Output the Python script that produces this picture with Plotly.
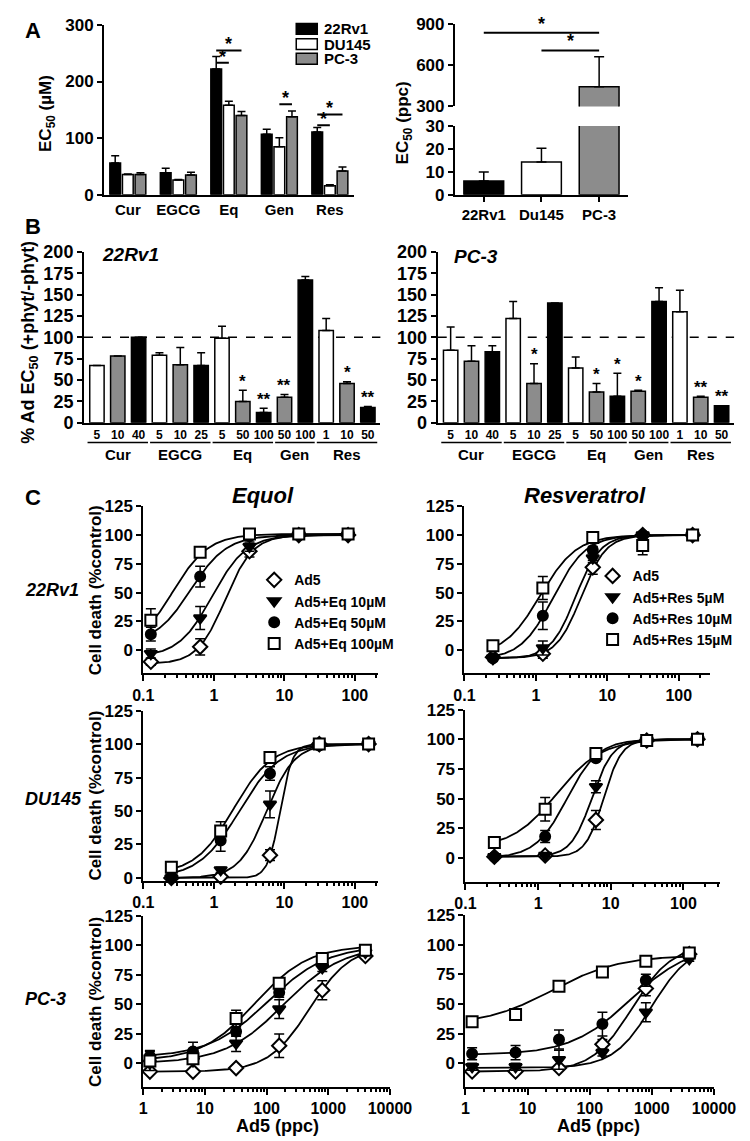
import numpy as np
import plotly.graph_objects as go

W, H = 750, 1141
FONT = "Liberation Sans"
GRAY = "#8c8c8c"

# ---------------- Panel A (left): EC50 of phytochemicals (uM)
a_compounds = ["Cur", "EGCG", "Eq", "Gen", "Res"]
a_cell_lines = ["22Rv1", "DU145", "PC-3"]
a_22rv1 = [56, 39, 222, 107, 111]
a_22rv1_err = [13, 8, 22, 9, 8]
a_du145 = [36, 26, 158, 85, 16]
a_du145_err = [1, 1, 7, 16, 2]
a_pc3 = [36, 35, 140, 138, 42]
a_pc3_err = [3, 5, 7, 10, 7]
a_sig_comp = [2, 2, 3, 4, 4]
a_sig_from = [0, 0, 1, 0, 0]
a_sig_to = [1, 2, 2, 1, 2]
a_sig_y = [233, 255, 160, 123, 142]
a_sig_lab = ["*", "*", "*", "*", "*"]

# ---------------- Panel A (right): EC50 of Ad5 (ppc)
ar_lines = ["22Rv1", "Du145", "PC-3"]
ar_ec50 = [6, 14.3, 443]
ar_err = [4, 6, 219]
ar_sig_from = [0, 1]
ar_sig_to = [2, 2]
ar_sig_y = [836, 707]
ar_sig_lab = ["*", "*"]

# ---------------- Panel B: % Ad EC50 (+phyt/-phyt)
b_doses = ["5", "10", "40", "5", "10", "25", "5", "50", "100", "50", "100", "1", "10", "50"]
b_groups = ["Cur"] * 3 + ["EGCG"] * 3 + ["Eq"] * 3 + ["Gen"] * 2 + ["Res"] * 3
b_level = ["low", "mid", "high", "low", "mid", "high", "low", "mid", "high",
           "mid", "high", "low", "mid", "high"]
b22_vals = [67, 78, 100, 79, 68, 67, 99, 25, 12, 30, 167, 108, 46, 18]
b22_err = [0, 0, 0, 3, 20, 15, 14, 13, 5, 3, 4, 14, 2, 1]
b22_sig = ["", "", "", "", "", "", "", "*", "**", "**", "", "", "*", "**"]
bpc3_vals = [85, 72, 83, 122, 46, 140, 64, 36, 31, 37, 142, 130, 30, 20]
bpc3_err = [27, 18, 7, 20, 23, 0, 13, 10, 27, 1, 16, 25, 1, 0]
bpc3_sig = ["", "", "", "", "*", "", "", "*", "*", "*", "", "", "**", "**"]
b_ref_line = 100

# ---------------- Panel C: dose-response (cell death % control)
c_eq_names = ["Ad5", "Ad5+Eq 10µM", "Ad5+Eq 50µM", "Ad5+Eq 100µM"]
c_res_names = ["Ad5", "Ad5+Res 5µM", "Ad5+Res 10µM", "Ad5+Res 15µM"]

c22eq_x = [0.128, 0.64, 3.2, 16, 80]
c22eq_y = [[-10, 3, 86, 100, 100], [-3, 28, 90, 100, 100],
           [14, 64, 99, 100, 100], [26, 85, 101, 101, 101]]
c22eq_err = [[3, 7, 5, 2, 2], [4, 10, 4, 2, 2], [6, 9, 2, 2, 2], [10, 2, 2, 2, 2]]
c22eq_fit = [(-12, 100, 1.45, 2.2), (-6, 100, 0.95, 1.8), (5, 100, 0.47, 1.7), (0, 101, 0.26, 1.7)]

c22res_x = [0.25, 1.25, 6.25, 31.25, 156.25]
c22res_y = [[-6, -3, 72, 100, 100], [-7, 2, 80, 100, 100],
            [-7, 30, 87, 100, 100], [4, 54, 98, 91, 100]]
c22res_err = [[2, 4, 6, 2, 2], [2, 6, 4, 2, 2], [2, 12, 3, 2, 2], [2, 10, 2, 8, 2]]
c22res_fit = [(-7, 100, 4.3, 2.5), (-7, 100, 3.6, 2.5), (-8, 100, 1.75, 1.9), (-5, 100, 1.15, 1.7)]

cdueq_x = [0.25, 1.25, 6.25, 31.25, 156.25]
cdueq_y = [[0, 1, 17, 100, 100], [0, 6, 55, 99, 100],
           [1, 28, 78, 99, 100], [8, 35, 90, 100, 100]]
cdueq_err = [[1, 1, 4, 2, 2], [1, 2, 10, 2, 2], [1, 8, 5, 2, 2], [1, 7, 2, 2, 2]]
cdueq_fit = [(0, 100, 8.7, 5.0), (0, 100, 5.6, 2.2), (0, 100, 2.3, 1.5), (3, 100, 1.9, 1.6)]

cdures_x = [0.25, 1.25, 6.25, 31.25, 156.25]
cdures_y = [[1, 2, 32, 99, 100], [1, 2, 60, 99, 100],
            [1, 18, 84, 99, 100], [13, 41, 88, 99, 100]]
cdures_err = [[1, 1, 8, 2, 2], [1, 1, 5, 2, 2], [1, 5, 2, 2, 2], [2, 10, 2, 2, 2]]
cdures_fit = [(1, 100, 8.0, 3.5), (1, 100, 5.5, 3.0), (0, 100, 2.5, 2.0), (8, 100, 1.8, 1.4)]

cpceq_x = [1.28, 6.4, 32, 160, 800, 4000]
cpceq_y = [[-7, -7, -4, 15, 62, 91], [0, 2, 17, 46, 81, 94],
           [6, 10, 27, 60, 85, 95], [2, 4, 38, 68, 89, 96]]
cpceq_err = [[1, 1, 1, 10, 8, 2], [1, 2, 7, 8, 3, 2], [5, 8, 4, 4, 3, 2], [8, 3, 7, 3, 2, 2]]
cpceq_fit = [(-7, 100, 500, 1.3), (0, 100, 190, 0.9), (5, 100, 105, 0.9), (2, 100, 65, 1.0)]

cpcres_x = [1.28, 6.4, 32, 160, 800, 4000]
cpcres_y = [[-7, -7, -4, 16, 63, 92], [-3, -3, 3, 9, 43, 88],
            [8, 9, 20, 33, 70, 92], [35, 41, 65, 77, 86, 93]]
cpcres_err = [[1, 1, 1, 4, 6, 2], [3, 3, 8, 3, 8, 2], [5, 6, 8, 10, 5, 2], [2, 2, 2, 2, 2, 2]]
cpcres_fit = [(-7, 100, 480, 1.35), (-4, 100, 1000, 1.4), (7, 100, 450, 0.9), (32, 91, 25, 0.8)]

c_ticks_low = [0.1, 1, 10, 100]
c_ticks_high = [1, 10, 100, 1000, 10000]
c_yticks = [0, 25, 50, 75, 100, 125]

# =====================================================================
def px(x):
    return x / W


def py(y):
    return 1 - y / H


def dx(a, b):
    return [a / W, b / W]


def dy(top, bot):
    return [1 - bot / H, 1 - top / H]


def tfont(size=17, **kw):
    d = dict(family=FONT, size=size, color="black", weight="bold")
    d.update(kw)
    return d


def axis_style(**kw):
    d = dict(showline=True, linecolor="black", linewidth=2, ticks="outside", tickwidth=2,
             ticklen=5, tickcolor="black", showgrid=False, zeroline=False,
             tickfont=tfont(17), fixedrange=True, layer="above traces")
    d.update(kw)
    return d


fig = go.Figure()
annotations = []
shapes = []

# ---------------- A left
a_vals = [a_22rv1, a_du145, a_pc3]
a_errs = [a_22rv1_err, a_du145_err, a_pc3_err]
a_cols = ["black", "white", GRAY]
for name, v, e, c in zip(a_cell_lines, a_vals, a_errs, a_cols):
    fig.add_trace(go.Bar(
        x=a_compounds, y=v, name=name, showlegend=False, xaxis="x", yaxis="y",
        marker=dict(color=c, line=dict(color="black", width=1.5)),
        error_y=dict(type="data", array=e, arrayminus=[0] * len(e), symmetric=False,
                     color="black", thickness=1.5, width=4)))
A_OFF = 0.25
for ci, f, t, yv, lab in zip(a_sig_comp, a_sig_from, a_sig_to, a_sig_y, a_sig_lab):
    x0 = ci + (f - 1) * A_OFF
    x1 = ci + (t - 1) * A_OFF
    shapes.append(dict(type="line", xref="x", yref="y", x0=x0, x1=x1, y0=yv, y1=yv,
                       line=dict(color="black", width=2)))
    annotations.append(dict(xref="x", yref="y", x=(x0 + x1) / 2, y=yv, text=lab,
                            showarrow=False, yanchor="middle", yshift=6, font=tfont(18)))
# legend A (manual key boxes)
for i, (name, c) in enumerate(zip(a_cell_lines, a_cols)):
    yc = [11, 26.5, 41.5][i]
    shapes.append(dict(type="rect", xref="paper", yref="paper", x0=px(290), x1=px(312),
                       y0=py(yc + 5.5), y1=py(yc - 5.5), fillcolor=c,
                       line=dict(color="black", width=1.5)))
    annotations.append(dict(xref="paper", yref="paper", x=px(317), y=py(yc), text=name,
                            showarrow=False, xanchor="left", yanchor="middle", font=tfont(15)))

# ---------------- A right (broken axis)
lower_err = [e if v <= 30 else 0 for v, e in zip(ar_ec50, ar_err)]
upper_err = [e if v >= 300 else 0 for v, e in zip(ar_ec50, ar_err)]
ar_cols = ["black", "white", GRAY]
BW = 0.69
for yax, errs in (("y2", lower_err), ("y3", upper_err)):
    fig.add_trace(go.Bar(
        x=ar_lines, y=ar_ec50, showlegend=False, xaxis="x2", yaxis=yax, width=BW, offset=-BW / 2,
        marker=dict(color=ar_cols, line=dict(color="black", width=1.5)),
        error_y=dict(type="data", array=errs, arrayminus=[0] * 3, symmetric=False,
                     color="black", thickness=1.5, width=5)))
for f, t, yv, lab in zip(ar_sig_from, ar_sig_to, ar_sig_y, ar_sig_lab):
    shapes.append(dict(type="line", xref="x2", yref="y3", x0=f, x1=t, y0=yv, y1=yv,
                       line=dict(color="black", width=2)))
    annotations.append(dict(xref="x2", yref="y3", x=(f + t) / 2, y=yv, text=lab,
                            showarrow=False, yanchor="middle", yshift=9, font=tfont(18)))

# ---------------- B panels
level_col = {"low": "white", "mid": GRAY, "high": "black"}
b_x = list(range(len(b_doses)))
b_cols = [level_col[l] for l in b_level]
for (xa, ya, vals, errs, sigs) in (("x4", "y4", b22_vals, b22_err, b22_sig),
                                   ("x5", "y5", bpc3_vals, bpc3_err, bpc3_sig)):
    fig.add_trace(go.Bar(
        x=b_x, y=vals, showlegend=False, xaxis=xa, yaxis=ya, width=BW, offset=-BW / 2,
        marker=dict(color=b_cols, line=dict(color="black", width=1.5)),
        error_y=dict(type="data", array=errs, arrayminus=[0] * len(errs), symmetric=False,
                     color="black", thickness=1.5, width=4)))
    shapes.append(dict(type="line", xref=xa + " domain", yref=ya, x0=0, x1=1,
                       y0=b_ref_line, y1=b_ref_line, line=dict(color="black", width=1.5, dash="dash"),
                       layer="below"))
    for i, s in enumerate(sigs):
        if s:
            annotations.append(dict(xref=xa, yref=ya, x=b_x[i], y=vals[i] + errs[i], text=s,
                                    showarrow=False, yanchor="middle", yshift=9, font=tfont(17)))
    seen = []
    for g in b_groups:
        if g not in seen:
            seen.append(g)
    for g in seen:
        idx = [i for i, gg in enumerate(b_groups) if gg == g]
        shapes.append(dict(type="line", xref=xa, yref="paper", x0=min(idx) - 0.45, x1=max(idx) + 0.45,
                           y0=py(432), y1=py(432), line=dict(color="black", width=1.5)))
        annotations.append(dict(xref=xa, yref="paper", x=(min(idx) + max(idx)) / 2, y=py(444),
                                text=g, showarrow=False, yanchor="middle", font=tfont(15)))

# ---------------- C panels
symbols = ["diamond", "triangle-down", "circle", "square"]
fills = ["white", "black", "black", "white"]
msizes = [11, 11, 10, 11]
c_panels = [
    (c22eq_x, c22eq_y, c22eq_err, c22eq_fit, c_eq_names, "6", "legend"),
    (c22res_x, c22res_y, c22res_err, c22res_fit, c_res_names, "7", "legend2"),
    (cdueq_x, cdueq_y, cdueq_err, cdueq_fit, c_eq_names, "8", None),
    (cdures_x, cdures_y, cdures_err, cdures_fit, c_res_names, "9", None),
    (cpceq_x, cpceq_y, cpceq_err, cpceq_fit, c_eq_names, "10", None),
    (cpcres_x, cpcres_y, cpcres_err, cpcres_fit, c_res_names, "11", None),
]
for xs, ys, es, fits, names, k, leg in c_panels:
    for (b, t, ec, h) in fits:
        xx = np.logspace(np.log10(xs[0]), np.log10(xs[-1]), 200)
        yy = b + (t - b) / (1 + (ec / xx) ** h)
        fig.add_trace(go.Scatter(x=xx, y=yy, mode="lines", showlegend=False, hoverinfo="skip",
                                 line=dict(color="black", width=1.8), xaxis="x" + k, yaxis="y" + k))
    for j in range(len(ys)):
        fig.add_trace(go.Scatter(
            x=xs, y=ys[j], mode="markers", name=names[j], xaxis="x" + k, yaxis="y" + k,
            showlegend=leg is not None, legend=leg if leg else "legend",
            marker=dict(symbol=symbols[j], size=msizes[j], color=fills[j],
                        line=dict(color="black", width=2)),
            error_y=dict(type="data", array=es[j], color="black", thickness=1.5, width=5),
            cliponaxis=False))

# ---------------- axes
layout_axes = {}
layout_axes["xaxis"] = axis_style(domain=dx(89, 350), anchor="y", range=[-0.47, 4.47],
                                  ticks="", tickfont=tfont(15))
layout_axes["yaxis"] = axis_style(domain=dy(7, 180), anchor="x", range=[0, 300],
                                  tickvals=[0, 100, 200, 300])
layout_axes["xaxis2"] = axis_style(domain=dx(456, 637), anchor="y2", range=[-0.5, 2.5],
                                   tickfont=tfont(15))
layout_axes["yaxis2"] = axis_style(domain=dy(110, 180), anchor="x2", range=[0, 30],
                                   tickvals=[0, 10, 20, 30])
layout_axes["yaxis3"] = axis_style(domain=dy(6, 90), anchor="x2", range=[300, 900],
                                   tickvals=[300, 600, 900])
for k, (x0, x1) in (("4", (68, 378)), ("5", (438, 748))):
    layout_axes["xaxis" + k] = axis_style(domain=dx(x0, x1), anchor="y" + k, range=[-0.62, 13.6],
                                          ticks="", tickmode="array", tickvals=b_x, ticktext=b_doses,
                                          tickfont=tfont(12))
    layout_axes["yaxis" + k] = axis_style(domain=dy(238, 412), anchor="x" + k, range=[0, 200],
                                          tickvals=list(range(0, 201, 25)), tickfont=tfont(18))

c_axes = [
    ("6", (130, 375), (497, 667), [-1, 2.32], [-20, 125], c_ticks_low),
    ("7", (466, 723), (497, 667), [-1, 2.44], [-20, 125], c_ticks_low),
    ("8", (130, 375), (705, 878), [-1, 2.32], [-2, 125], c_ticks_low),
    ("9", (467, 733), (704, 879), [-1, 2.5], [-20, 125], c_ticks_low),
    ("10", (130, 388), (914, 1088), [0, 4], [-20, 125], c_ticks_high),
    ("11", (467, 727), (913, 1088), [0, 4], [-20, 125], c_ticks_high),
]
for k, (x0, x1), (y0, y1), xr, yr, tv in c_axes:
    layout_axes["xaxis" + k] = axis_style(
        domain=dx(x0, x1), anchor="y" + k, type="log", range=xr, tickmode="array",
        tickvals=tv, ticktext=[("%g" % v) for v in tv], ticklen=6, tickfont=tfont(16),
        minor=dict(ticks="outside", ticklen=3, tickwidth=1.5, tickcolor="black", dtick="D1"))
    layout_axes["yaxis" + k] = axis_style(domain=dy(y0, y1), anchor="x" + k, range=yr,
                                          tickvals=c_yticks)

# ---------------- text annotations
def ann(x, y, text, size, xanchor="center", yanchor="middle", angle=0, italic=False):
    f = tfont(size)
    if italic:
        f["style"] = "italic"
    annotations.append(dict(xref="paper", yref="paper", x=px(x), y=py(y), text=text,
                            showarrow=False, xanchor=xanchor, yanchor=yanchor, textangle=angle,
                            font=f))


ann(4, 13, "A", 22, xanchor="left")
ann(4, 212, "B", 22, xanchor="left")
ann(4, 488, "C", 22, xanchor="left")
ann(30, 97, "EC<sub>50</sub> (µM)", 17, angle=-90)
ann(403, 107, "EC<sub>50</sub> (ppc)", 17, angle=-90)
ann(11, 330, "% Ad EC<sub>50</sub> (+phyt/-phyt)", 18, angle=-90)
ann(85, 241, "22Rv1", 19, xanchor="left", italic=True)
ann(453, 243, "PC-3", 19, xanchor="left", italic=True)
ann(255, 486, "Equol", 22, italic=True)
ann(592, 486, "Resveratrol", 22, italic=True)
ann(4, 582, "22Rv1", 18, xanchor="left", italic=True)
ann(4, 795, "DU145", 18, xanchor="left", italic=True)
ann(4, 999, "PC-3", 18, xanchor="left", italic=True)
for yc in (582, 791, 1001):
    ann(80, yc, "Cell death (%control)", 17, angle=-90)
ann(270, 1128, "Ad5 (ppc)", 18)
ann(606, 1128, "Ad5 (ppc)", 18)

fig.update_layout(
    width=W, height=H, autosize=False,
    margin=dict(l=0, r=0, t=0, b=0),
    paper_bgcolor="white", plot_bgcolor="white",
    font=dict(family=FONT, color="black", weight="bold"),
    barmode="group", bargap=0.25, bargroupgap=0.15,
    showlegend=True,
    legend=dict(x=px(246), y=py(556), xanchor="left", yanchor="top", bgcolor="rgba(0,0,0,0)",
                font=tfont(14), tracegroupgap=0, itemclick=False),
    legend2=dict(x=px(600), y=py(552), xanchor="left", yanchor="top", bgcolor="rgba(0,0,0,0)",
                 font=tfont(14), tracegroupgap=0, itemclick=False),
    annotations=annotations, shapes=shapes,
    **layout_axes,
)

fig.write_html("out.html")
